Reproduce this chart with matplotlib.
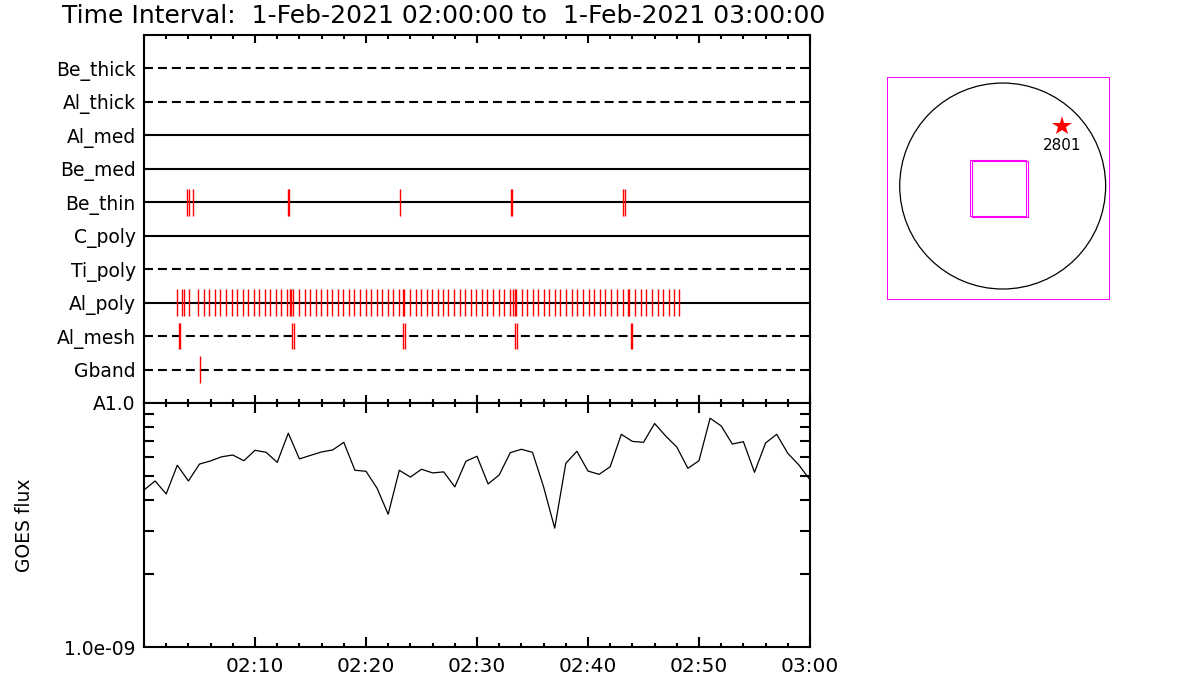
import matplotlib
matplotlib.use('Agg')
import matplotlib.pyplot as plt
from matplotlib.patches import Circle, Rectangle

# Time in minutes after 02:00
title = 'Time Interval:  1-Feb-2021 02:00:00 to  1-Feb-2021 03:00:00'

filters = ['Gband', 'Al_mesh', 'Al_poly', 'Ti_poly', 'C_poly',
           'Be_thin', 'Be_med', 'Al_med', 'Al_thick', 'Be_thick']
dashed = ['Gband', 'Al_mesh', 'Ti_poly', 'Al_thick', 'Be_thick']

obs_be_thin = [3.90, 4.08, 4.44, 12.98, 13.08, 23.09, 33.08, 33.17, 43.13, 43.30]
obs_al_mesh = [3.12, 3.22, 13.36, 13.54, 23.36, 23.54, 33.45, 33.63, 43.83, 43.92]
obs_gband = [5.01]
obs_al_poly = [
    3.00, 3.45, 3.57, 4.08, 4.89, 5.41, 5.89, 6.37, 6.88, 7.39, 7.90, 8.38,
    8.89, 9.37, 9.88, 10.36, 10.87, 11.38, 11.86, 12.37, 12.88, 13.18, 13.27,
    13.45, 13.99, 14.47, 14.95, 15.47, 15.98, 16.46, 16.97, 17.45, 17.96,
    18.47, 18.95, 19.46, 19.97, 20.45, 20.96, 21.44, 21.95, 22.46, 22.94,
    23.30, 23.42, 23.96, 24.47, 24.95, 25.47, 25.98, 26.46, 26.97, 27.42,
    27.96, 28.47, 28.95, 29.49, 29.94, 30.48, 30.93, 31.47, 31.95, 32.46,
    33.00, 33.27, 33.39, 33.54, 34.08, 34.53, 35.08, 35.53, 36.07, 36.52,
    37.06, 37.51, 38.05, 38.59, 39.04, 39.58, 40.06, 40.57, 41.05, 41.56,
    42.04, 42.58, 43.18, 43.57, 43.72, 44.26, 44.74, 45.25, 45.74, 46.28,
    46.79, 47.33, 47.78, 48.23]

goes_time = list(range(61))
goes_flux = [4.40, 4.79, 4.24, 5.56, 4.79, 5.62, 5.79, 6.02, 6.12, 5.80,
             6.40, 6.28, 5.71, 7.52, 5.90, 6.10, 6.30, 6.42, 6.90, 5.30,
             5.25, 4.47, 3.50, 5.30, 4.97, 5.35, 5.17, 5.22, 4.53, 5.77,
             6.05, 4.66, 5.07, 6.26, 6.46, 6.28, 4.53, 3.07, 5.66, 6.34,
             5.26, 5.10, 5.48, 7.44, 6.96, 6.90, 8.24, 7.32, 6.60, 5.40,
             5.80, 8.66, 8.05, 6.79, 6.94, 5.20, 6.86, 7.44, 6.22, 5.57, 4.84]
goes_flux = [v * 1e-9 for v in goes_flux]

xtick_pos = [10, 20, 30, 40, 50, 60]
xtick_labels = ['02:10', '02:20', '02:30', '02:40', '02:50', '03:00']
ytick_pos = [1e-9, 1e-8]
ytick_labels = ['1.0e-09', 'A1.0']

# solar disk panel (arcsec)
sun_radius = 960
fov_boxes = [(-302, -284, 516, 526), (-284, -293, 517, 526)]
spot_xy = (555, 559)
spot_label = '2801'

fig = plt.figure(figsize=(12, 7), dpi=100)
plt.rcParams['font.family'] = ['DejaVu Sans']

ax1 = fig.add_axes([0.12, 0.4243, 0.555, 0.5257])
ax2 = fig.add_axes([0.12, 0.0757, 0.555, 0.3486])
ax3 = fig.add_axes([0.7394, 0.5724, 0.185, 0.3171])

# top panel: observation timeline
marks = {'Be_thin': obs_be_thin, 'Al_mesh': obs_al_mesh,
         'Gband': obs_gband, 'Al_poly': obs_al_poly}
for i, name in enumerate(filters):
    row = i + 1
    if name in dashed:
        ax1.plot([0, 60], [row, row], color='black', lw=1.5, dashes=(4.3, 2.4))
    else:
        ax1.plot([0, 60], [row, row], color='black', lw=1.5)
    if name in marks:
        ax1.vlines(marks[name], row - 0.4, row + 0.4, color='red', lw=1.0)

ax1.set_xlim(0, 60)
ax1.set_ylim(0, 11)
ax1.set_yticks(range(1, 11))
ax1.set_yticklabels(filters, fontsize=13.5)
ax1.tick_params(axis='y', length=0, pad=6)
ax1.set_xticks(xtick_pos)
ax1.set_xticks(range(0, 61, 2), minor=True)
ax1.tick_params(axis='x', which='both', direction='in', top=True, bottom=True,
                labelbottom=False, width=1.5)
ax1.tick_params(axis='x', which='major', length=6)
ax1.tick_params(axis='x', which='minor', length=3)
for s in ax1.spines.values():
    s.set_linewidth(1.5)
fig.text(62 / 1200, 1 - 16 / 700, title, ha='left', va='center', fontsize=18)

# lower panel: GOES flux
ax2.plot(goes_time, goes_flux, color='black', lw=0.9)
ax2.set_yscale('log')
ax2.set_xlim(0, 60)
ax2.set_ylim(1e-9, 1e-8)
ax2.set_yticks(ytick_pos)
ax2.set_yticklabels(ytick_labels, fontsize=13.5)
ax2.tick_params(axis='y', which='major', length=0, pad=6)
ax2.tick_params(axis='y', which='minor', direction='in', left=True, right=True,
                length=7, width=1.5, labelleft=False)
ax2.set_xticks(xtick_pos)
ax2.set_xticklabels(xtick_labels, fontsize=14.5)
ax2.set_xticks(range(0, 61, 2), minor=True)
ax2.tick_params(axis='x', which='both', direction='in', top=True, bottom=True,
                width=1.5, pad=7)
ax2.tick_params(axis='x', which='major', length=7)
ax2.tick_params(axis='x', which='minor', length=3)
for s in ax2.spines.values():
    s.set_linewidth(1.5)
ax2.set_ylabel('GOES flux', fontsize=13.5, labelpad=22)

# right panel: solar disk with field of view
ax3.set_xlim(-1076, 994)
ax3.set_ylim(-1056, 1013)
ax3.add_patch(Circle((0, 0), sun_radius, fill=False, edgecolor='black', lw=0.9))
for x0, y0, w, h in fov_boxes:
    ax3.add_patch(Rectangle((x0, y0), w, h, fill=False, edgecolor='magenta', lw=0.8))
ax3.plot(*spot_xy, marker='*', color='red', markersize=15, markeredgewidth=0)
ax3.text(spot_xy[0] - 5, spot_xy[1] - 185, spot_label, ha='center', va='center',
         fontsize=11)
ax3.set_xticks([])
ax3.set_yticks([])
for s in ax3.spines.values():
    s.set_edgecolor('magenta')
    s.set_linewidth(0.7)

fig.savefig('out.png', dpi=100)
